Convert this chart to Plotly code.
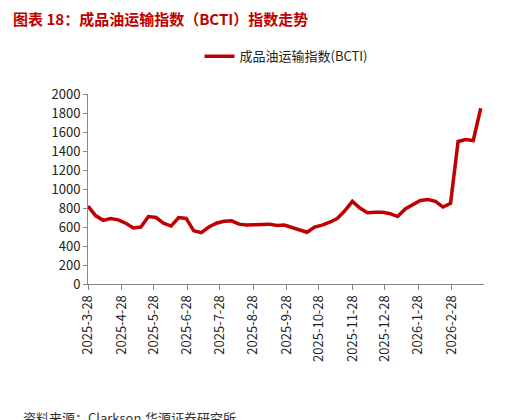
import pandas as pd
import plotly.graph_objects as go

dates = pd.date_range("2025-03-28", periods=53, freq="7D")
bcti = [820, 720, 670, 690, 675, 640, 590, 600, 710, 700, 640, 610, 700, 690,
        560, 540, 600, 640, 660, 665, 630, 620, 625, 630, 630, 615, 620, 595,
        565, 545, 600, 620, 650, 690, 770, 870, 800, 750, 755, 755, 740, 710,
        790, 840, 880, 890, 870, 810, 850, 1500, 1520, 1510, 1850]
tick_dates = pd.date_range("2025-03-01", "2026-02-28", freq="MS") + pd.Timedelta(days=27)
tick_text = [f"{d.year}-{d.month}-28" for d in tick_dates]

red = "#C00000"
fig = go.Figure()
fig.add_trace(go.Scatter(x=dates, y=bcti, mode="lines", name="成品油运输指数(BCTI)",
                         line=dict(color=red, width=3.5)))

fig.update_layout(
    width=506, height=420, plot_bgcolor="white", paper_bgcolor="white",
    margin=dict(l=80, r=30, t=86, b=144),
    font=dict(family="Noto Sans CJK SC", size=13, color="#222"),
    showlegend=True,
    legend=dict(x=0.5, y=1.12, xanchor="center", yanchor="bottom", orientation="h",
                font=dict(size=13)),
    title=dict(text="<b>图表 18：成品油运输指数（BCTI）指数走势</b>", x=0.01, y=0.985,
               yanchor="top", font=dict(size=15, color=red)),
)
fig.update_xaxes(tickvals=tick_dates, ticktext=tick_text, tickangle=-90,
                 range=[dates[0], dates[-1] + pd.Timedelta(days=3)],
                 showline=True, linecolor="#888", ticks="outside", ticklen=5,
                 tickcolor="#888", showgrid=False, tickfont=dict(size=13))
fig.update_yaxes(range=[0, 2000], dtick=200, showline=True, linecolor="#888",
                 ticks="outside", ticklen=4, tickcolor="#888", showgrid=False,
                 tickfont=dict(size=13))
fig.add_annotation(text="资料来源：Clarkson,华源证券研究所", xref="paper", yref="paper",
                   x=-0.17, y=-0.64, xanchor="left", yanchor="top", showarrow=False,
                   font=dict(size=13, color="#333"))
fig.write_html("out.html")
